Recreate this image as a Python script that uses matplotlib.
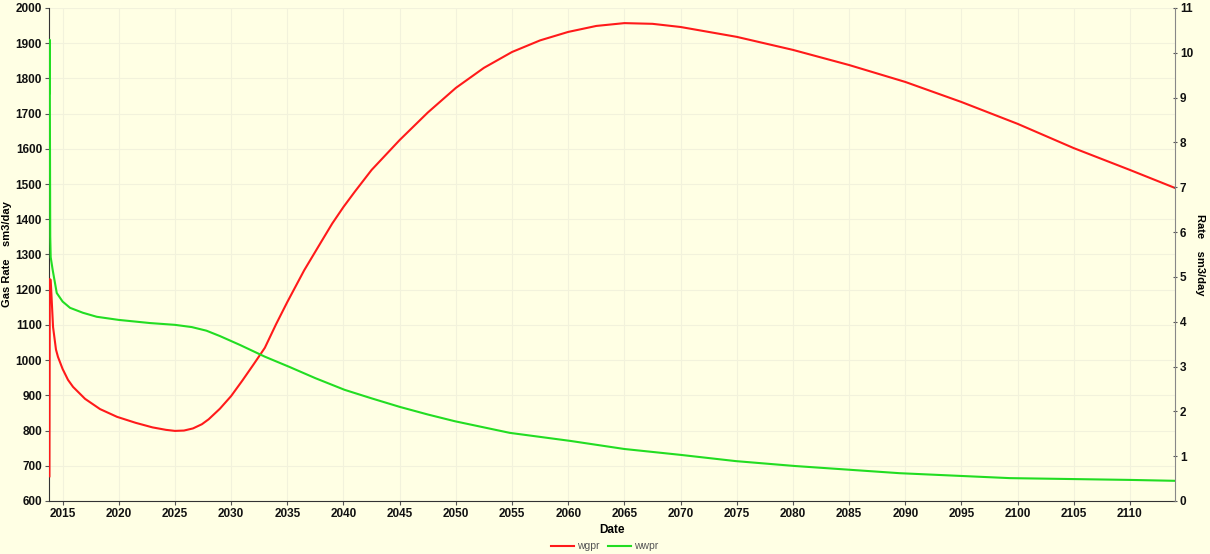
import matplotlib
matplotlib.use("Agg")
import matplotlib.pyplot as plt
from matplotlib.lines import Line2D

plt.rcParams['font.family'] = ['Liberation Sans', 'DejaVu Sans']

# wgpr (gas rate, left axis)
gas_years = [2013.83, 2013.86, 2013.94, 2014.15, 2014.41, 2014.59, 2015.0, 2015.48, 2015.93,
             2017.0, 2018.33, 2019.84, 2021.5, 2023.0, 2024.2, 2025.0, 2025.8, 2026.6,
             2027.4, 2028.0, 2029.0, 2030.0, 2031.0, 2032.0, 2033.0, 2034.0, 2035.0,
             2036.5, 2038.0, 2039.0, 2040.0, 2041.0, 2042.5, 2045.0, 2047.5, 2050.0,
             2052.5, 2055.0, 2057.5, 2060.0, 2062.5, 2065.0, 2067.5, 2070.0, 2072.5,
             2075.0, 2080.0, 2085.0, 2090.0, 2095.0, 2100.0, 2105.0, 2110.0, 2114.0]
gas_rate = [670, 1230, 1228, 1094, 1030, 1009, 975, 944, 924,
            890, 861, 839, 822, 809, 802, 799, 800, 806,
            818, 832, 862, 898, 942, 988, 1035, 1102, 1165,
            1255, 1335, 1388, 1435, 1478, 1540, 1625, 1703, 1773,
            1830, 1875, 1908, 1932, 1949, 1957, 1955, 1946, 1932,
            1918, 1881, 1838, 1790, 1733, 1671, 1602, 1540, 1489]

# wwpr (water rate, right axis)
water_years = [2013.82, 2013.85, 2013.9, 2013.94, 2014.12, 2014.48, 2015.0, 2015.66, 2016.8,
               2018.04, 2020.0, 2022.78, 2025.0, 2026.5, 2027.8, 2029.0, 2030.8, 2033.0,
               2035.2, 2037.5, 2040.1, 2042.5, 2045.0, 2047.5, 2049.9, 2054.8, 2060.2,
               2065.0, 2069.96, 2074.9, 2080.2, 2089.5, 2099.3, 2110.0, 2114.0]
water_rate = [9.1, 10.29, 5.9, 5.44, 5.15, 4.64, 4.45, 4.31, 4.2,
              4.11, 4.04, 3.97, 3.93, 3.88, 3.80, 3.68, 3.48, 3.22,
              2.99, 2.74, 2.48, 2.29, 2.10, 1.93, 1.78, 1.52, 1.34,
              1.16, 1.03, 0.89, 0.78, 0.62, 0.51, 0.47, 0.45]

x_ticks = list(range(2015, 2115, 5))
left_ticks = list(range(600, 2001, 100))
right_ticks = list(range(0, 12))

bg = '#FFFFE4'
fig = plt.figure(figsize=(12.1, 5.54), dpi=100, facecolor=bg)
ax = fig.add_axes([0.0405, 0.0957, 0.9305, 0.8899])
ax.set_facecolor(bg)
ax2 = ax.twinx()

ax.plot(gas_years, gas_rate, color='#FF1A1A', lw=1.5, zorder=3)
ax2.plot(water_years, water_rate, color='#22DD22', lw=1.5, zorder=3)

ax.set_xlim(2013.79, 2114.0)
ax.set_ylim(600, 2000)
ax2.set_ylim(0, 11)

ax.set_xticks(x_ticks)
ax.set_xticklabels([str(t) for t in x_ticks])
ax.set_yticks(left_ticks)
ax2.set_yticks(right_ticks)

ax.grid(True, color='#F2F2DC', lw=0.8)
ax.set_axisbelow(True)

for a in (ax, ax2):
    a.spines['top'].set_visible(False)
ax.spines['right'].set_visible(False)
ax2.spines['left'].set_visible(False)
ax2.spines['bottom'].set_visible(False)
ax2.spines['right'].set_color('#888888')
ax.spines['left'].set_color('#333333')
ax.spines['bottom'].set_color('#333333')

ax.tick_params(axis='both', labelsize=8.5, length=3, width=0.8, color='#555555', pad=2)
ax2.tick_params(axis='y', labelsize=8.5, length=3, width=0.8, direction='inout', color='#555555', pad=2)
for lbl in ax.get_xticklabels() + ax.get_yticklabels() + ax2.get_yticklabels():
    lbl.set_color('#111111')
    lbl.set_fontweight('bold')

ax.set_xlabel('Date', fontsize=8.5, labelpad=3, fontweight='bold')
ax.set_ylabel('Gas Rate    sm3/day', fontsize=8, fontweight='bold')
ax.yaxis.set_label_coords(-0.033, 0.5)
ax2.set_ylabel('Rate    sm3/day', fontsize=8, rotation=270, fontweight='bold', va='center')
ax2.yaxis.set_label_coords(1.022, 0.5)

handles = [Line2D([0], [0], color='#FF1A1A', lw=1.5),
           Line2D([0], [0], color='#22DD22', lw=1.5)]
fig.legend(handles, ['wgpr', 'wwpr'], loc='lower center', bbox_to_anchor=(0.5, -0.012),
           ncol=2, frameon=False, fontsize=7.5, handlelength=2.2, columnspacing=0.8,
           handletextpad=0.3, labelcolor='#555555')

fig.savefig('out.png', dpi=100, facecolor=bg)
